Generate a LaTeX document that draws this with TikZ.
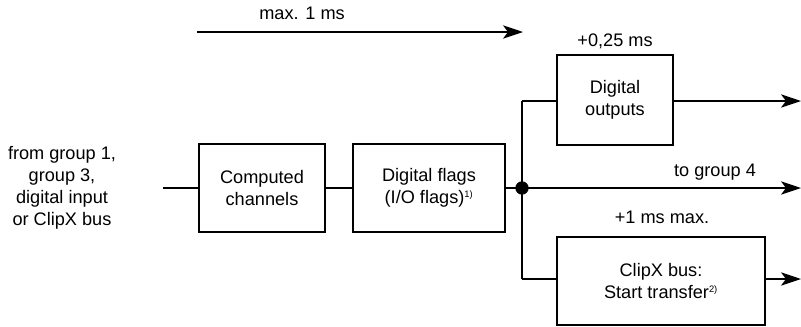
\documentclass[tikz,border=0pt]{standalone}
\usepackage{fontspec}
\setmainfont{Liberation Sans}
\usetikzlibrary{arrows.meta, calc}
\tikzstyle{block}=[draw=black, line width=1.4pt, align=center, inner sep=0pt]
\tikzstyle{wire}=[line width=1.2pt]
\tikzstyle{arr}=[wire, -{Stealth[length=0.6cm, width=0.4cm, inset=0.15cm]}]
\tikzstyle{lbl}=[font=\fontsize{15.5}{18.8}\selectfont, align=center, inner sep=0pt]

\begin{document}
\begin{tikzpicture}[x=0.03cm, y=-0.03cm, font=\fontsize{15.5}{18.8}\selectfont]
				\useasboundingbox (0,0) rectangle (801,326);

				\coordinate (tS) at (197,32);
				\coordinate (tE) at (523,32);
				\coordinate (J)  at (522,188);
				\coordinate (Ju) at (522,101);
				\coordinate (Jd) at (522,279);
				\coordinate (O1) at (801,101);
				\coordinate (O2) at (801,188);
				\coordinate (O3) at (801,279);
				\coordinate (In) at (163,188);

				\node[lbl] (src) at (62,188) {from group 1,\\group 3,\\digital input\\or ClipX bus};
				\node[block, minimum width=3.78cm, minimum height=2.64cm] (comp) at (262,188) {Computed\\channels};
				\node[block, minimum width=4.56cm, minimum height=2.64cm] (flags) at (429,188) {Digital flags\\(I/O flags)\textsuperscript{\footnotesize 1)}};
				\node[block, minimum width=3.48cm, minimum height=2.7cm] (dout) at (615,100) {Digital\\outputs};
				\node[block, minimum width=6.24cm, minimum height=2.64cm] (clipx) at (661,281) {ClipX bus:\\Start transfer\textsuperscript{\footnotesize 2)}};

				\draw[arr] (tS) -- (tE);
				\node[lbl] (tmax) at (302,13) {max. 1 ms};
				\node[lbl] (tdo) at (615,41) {+0,25 ms};
				\node[lbl] (tgrp) at (715,172) {to group 4};
				\node[lbl] (tclip) at (662,217) {+1 ms max.};

				\draw[wire] (In) -- (comp.west);
				\draw[wire] (comp.east) -- (flags.west);
				\draw[wire] (flags.east) -- (J);
				\draw[wire] (Ju) -- (Jd);
				\draw[wire] (Ju) -- (Ju -| dout.west);
				\draw[wire] (Jd) -- (Jd -| clipx.west);
				\draw[arr] (dout.east |- O1) -- (O1);
				\draw[arr] (J) -- (O2);
				\draw[arr] (clipx.east |- O3) -- (O3);
				\fill (J) circle (0.2cm);
			\end{tikzpicture}
\end{document}
